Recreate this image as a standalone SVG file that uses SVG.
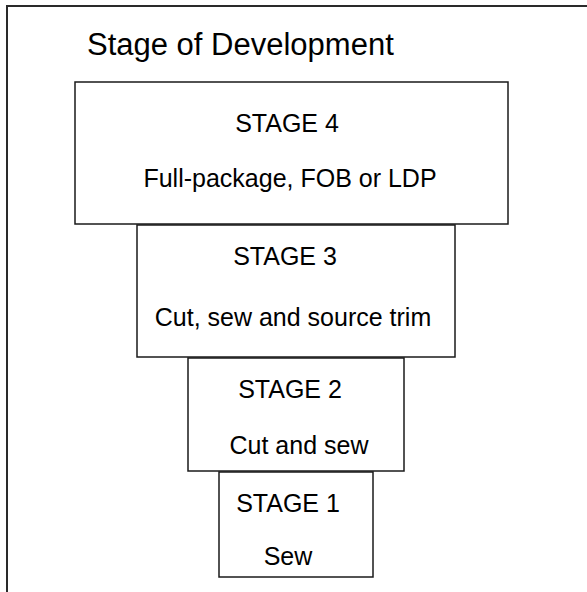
<svg xmlns="http://www.w3.org/2000/svg" width="587" height="592" viewBox="0 0 587 592">
<style>
.frame{fill:#fff;stroke:#2a2a2a;stroke-width:2}
.box{fill:#fff;stroke:#1a1a1a;stroke-width:1.5}
.t{font-family:"Liberation Sans",Arial,sans-serif;font-size:25px;fill:#000;text-anchor:middle}
.title{font-family:"Liberation Sans",Arial,sans-serif;font-size:31px;fill:#000}
</style>
<rect width="587" height="592" fill="#fff"/>
<g id="frame">
<rect class="frame" x="7" y="6" width="620" height="620"/>
<text class="title" x="87" y="55">Stage of Development</text>
</g>
<g id="stage4">
<rect class="box" x="75" y="82" width="433" height="142"/>
<text class="t" x="287" y="132">STAGE 4</text>
<text class="t" x="290" y="187">Full-package, FOB or LDP</text>
</g>
<g id="stage3">
<rect class="box" x="137" y="225" width="318" height="132"/>
<text class="t" x="285" y="265">STAGE 3</text>
<text class="t" x="293" y="326">Cut, sew and source trim</text>
</g>
<g id="stage2">
<rect class="box" x="188" y="358" width="216" height="113"/>
<text class="t" x="290" y="398">STAGE 2</text>
<text class="t" x="299" y="454">Cut and sew</text>
</g>
<g id="stage1">
<rect class="box" x="219" y="472" width="154" height="105"/>
<text class="t" x="288" y="512">STAGE 1</text>
<text class="t" x="288" y="565">Sew</text>
</g>
<g id="connectors"/>
</svg>
